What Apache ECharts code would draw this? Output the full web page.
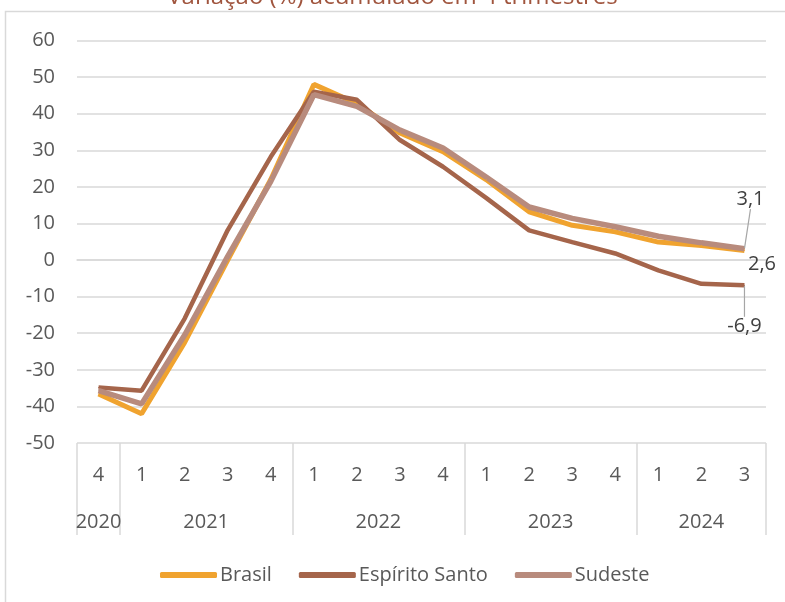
<!DOCTYPE html>
<html>
<head>
<meta charset="utf-8">
<script src="https://cdn.jsdelivr.net/npm/echarts@6/dist/echarts.min.js"></script>
<style>
  html, body { margin: 0; padding: 0; background: #fff; }
  #chart { width: 785px; height: 602px; }
</style>
</head>
<body>
<div id="chart"></div>
<script>
// trimestres (eixo x, nível 1) e anos (nível 2)
const quarters = ['4', '1', '2', '3', '4', '1', '2', '3', '4', '1', '2', '3', '4', '1', '2', '3'];
const years = ['2020', '2021', '2022', '2023', '2024'];
const yearSpans = [1, 4, 4, 4, 3];   // nº de trimestres de cada ano

// variação (%) acumulada em 4 trimestres
const brasil = [-36.6, -42.0, -22.5, 0.0, 22.0, 48.0, 42.8, 34.7, 29.6, 22.0, 13.2, 9.5, 7.7, 4.9, 4.0, 2.6];
const espiritoSanto = [-34.8, -35.7, -16.0, 8.2, 28.2, 46.0, 43.8, 32.8, 25.5, 17.0, 8.1, 4.9, 1.8, -2.8, -6.5, -6.9];
const sudeste = [-35.7, -39.3, -20.5, 1.0, 21.5, 45.2, 42.0, 35.5, 30.6, 22.7, 14.5, 11.4, 9.1, 6.5, 4.7, 3.1];

const yTicks = { min: -50, max: 60, step: 10 };

// eixo dos anos: meio-passos de 0 a 16 (33 pontos), rótulo no centro de cada ano, traço nas fronteiras
const halfSlots = quarters.length * 2 + 1;
const yearAxisData = new Array(halfSlots).fill('');
const yearLabelIdx = [];
const yearTickIdx = [0];
let acc = 0;
years.forEach((y, i) => {
  const mid = acc * 2 + yearSpans[i];
  yearAxisData[mid] = y;
  yearLabelIdx.push(mid);
  acc += yearSpans[i];
  yearTickIdx.push(acc * 2);
});

const fmt = v => String(v).replace('.', ',');
const txt = '#595959';
const gridCol = '#d9d9d9';
const font = 'Open Sans';
const fs = 20;
const lastIdx = quarters.length - 1;

// rótulo só no último ponto
function lastLabel(arr, label, line) {
  return arr.map((v, i) => {
    if (i !== lastIdx) return v;
    return { value: v, label: Object.assign({ show: true }, label), labelLine: { show: line, lineStyle: { color: '#a6a6a6', width: 1.2 } } };
  });
}
// desloca o rótulo do último ponto (a linha guia acompanha)
const shiftLast = (dx, dy) => (p) => (p.dataIndex === lastIdx ? { dx: dx, dy: dy } : {});

const gridPos = { left: 77, right: 19, top: 40.5, bottom: 159 };

let options = {
  animation: false,
  textStyle: { fontFamily: font },
  title: {
    text: 'Variação (%) acumulado em 4 trimestres',
    left: 'center',
    top: -20,
    textStyle: { fontSize: 24, fontWeight: 'normal', color: '#A0553E', fontFamily: font }
  },
  graphic: [{
    type: 'rect',
    shape: { x: 5.5, y: 11.5, width: 820, height: 620 },
    style: { fill: 'none', stroke: gridCol, lineWidth: 1.5 },
    silent: true,
    z: -10
  }],
  legend: {
    left: 155,
    top: 560,
    icon: 'roundRect',
    itemWidth: 57,
    itemHeight: 6,
    itemGap: 27,
    textStyle: { fontSize: fs, color: txt, fontFamily: font, padding: [0, 0, 0, -2] },
    data: ['Brasil', 'Espírito Santo', 'Sudeste']
  },
  grid: [
    Object.assign({}, gridPos),
    Object.assign({}, gridPos)
  ],
  xAxis: [
    {
      type: 'category',
      gridIndex: 0,
      data: quarters,
      boundaryGap: true,
      axisLine: { lineStyle: { color: gridCol, width: 1.5 } },
      axisTick: { show: false },
      axisLabel: { interval: 0, margin: 22, fontSize: fs, color: txt, fontFamily: font },
      splitLine: { show: false }
    },
    {
      type: 'category',
      gridIndex: 1,
      data: yearAxisData,
      boundaryGap: false,
      position: 'bottom',
      axisLine: { show: false, onZero: false },
      axisTick: {
        show: true,
        length: 92,
        interval: (idx) => yearTickIdx.indexOf(idx) >= 0,
        lineStyle: { color: gridCol, width: 1.5 }
      },
      axisLabel: {
        interval: (idx) => yearLabelIdx.indexOf(idx) >= 0,
        margin: 69,
        fontSize: fs,
        color: txt,
        fontFamily: font
      },
      splitLine: { show: false }
    }
  ],
  yAxis: [
    {
      type: 'value',
      gridIndex: 0,
      min: yTicks.min,
      max: yTicks.max,
      interval: yTicks.step,
      axisLine: { show: false },
      axisTick: { show: false },
      axisLabel: { margin: 22, fontSize: fs, color: txt, fontFamily: font },
      splitLine: { lineStyle: { color: gridCol, width: 1.5 } }
    },
    {
      type: 'value',
      gridIndex: 1,
      min: yTicks.min,
      max: yTicks.max,
      show: false
    }
  ],
  series: [
    {
      name: 'Brasil',
      type: 'line',
      xAxisIndex: 0,
      yAxisIndex: 0,
      symbol: 'circle',
      symbolSize: 1,
      lineStyle: { width: 5, color: '#F0A32F' },
      itemStyle: { color: '#F0A32F' },
      label: { show: false, formatter: p => fmt(p.value), fontSize: fs, color: '#404040', fontFamily: font },
      data: lastLabel(brasil, { position: 'right', offset: [0, 14], distance: 3 }, false)
    },
    {
      name: 'Espírito Santo',
      type: 'line',
      xAxisIndex: 0,
      yAxisIndex: 0,
      symbol: 'circle',
      symbolSize: 1,
      lineStyle: { width: 4.5, color: '#A5654B' },
      itemStyle: { color: '#A5654B' },
      label: { show: false, formatter: p => fmt(p.value), fontSize: fs, color: '#404040', fontFamily: font },
      labelLayout: shiftLast(0, 26),
      data: lastLabel(espiritoSanto, { position: 'bottom', distance: 5 }, true)
    },
    {
      name: 'Sudeste',
      type: 'line',
      xAxisIndex: 0,
      yAxisIndex: 0,
      symbol: 'circle',
      symbolSize: 1,
      lineStyle: { width: 5.5, color: '#B88B7D' },
      itemStyle: { color: '#B88B7D' },
      label: { show: false, formatter: p => fmt(p.value), fontSize: fs, color: '#404040', fontFamily: font },
      labelLayout: shiftLast(6, -34),
      data: lastLabel(sudeste, { position: 'top', distance: 5 }, true)
    }
  ]
};

let chart = echarts.init(document.getElementById('chart'));
chart.setOption(options);
</script>
</body>
</html>
